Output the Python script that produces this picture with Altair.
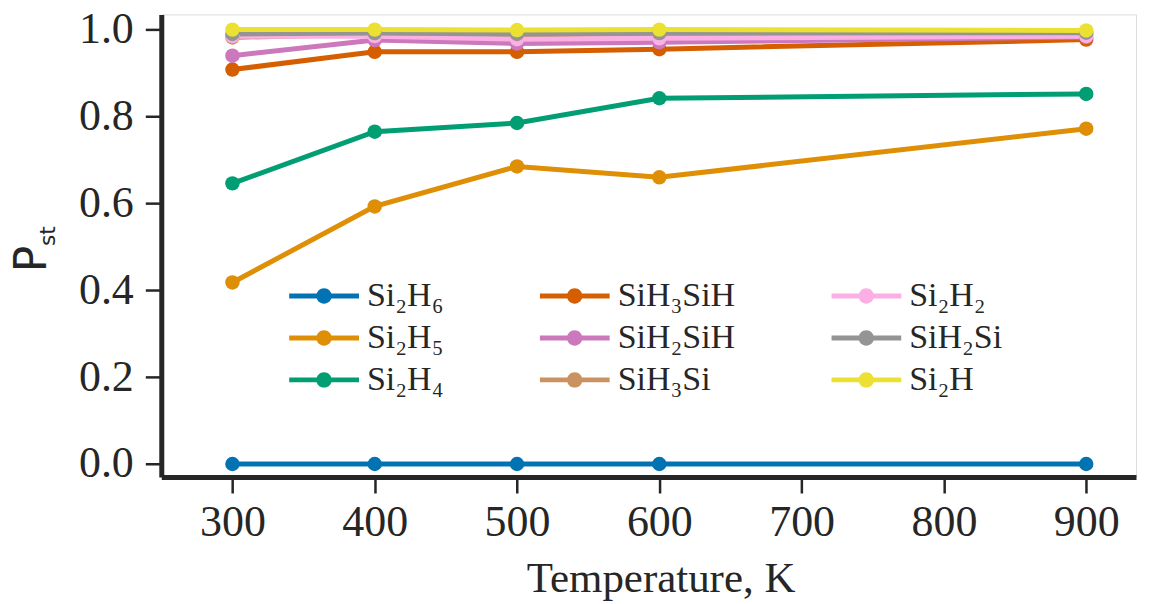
import altair as alt
import pandas as pd

temps = [300, 400, 500, 600, 900]
series_names = ["Si₂H₆", "Si₂H₅", "Si₂H₄", "SiH₃SiH", "SiH₂SiH", "SiH₃Si", "Si₂H₂", "SiH₂Si", "Si₂H"]
series_colors = ["#0173b2", "#de8f05", "#029e73", "#d55e00", "#cc78bc", "#ca9161", "#fbafe4", "#949494", "#ece133"]
si2h6 = [0.0, 0.0, 0.0, 0.0, 0.0]
si2h5 = [0.418, 0.593, 0.685, 0.660, 0.772]
si2h4 = [0.646, 0.765, 0.785, 0.842, 0.852]
sih3sih = [0.908, 0.949, 0.949, 0.955, 0.977]
sih2sih = [0.940, 0.976, 0.968, 0.971, 0.983]
sih3si = [0.982, 0.990, 0.988, 0.990, 0.990]
si2h2 = [0.985, 0.985, 0.978, 0.980, 0.985]
sih2si = [0.990, 0.992, 0.990, 0.992, 0.993]
si2h = [1.000, 1.000, 0.999, 1.000, 0.998]
x_ticks = [300, 400, 500, 600, 700, 800, 900]
y_ticks = [0.0, 0.2, 0.4, 0.6, 0.8, 1.0]

values = [si2h6, si2h5, si2h4, sih3sih, sih2sih, sih3si, si2h2, sih2si, si2h]
rows = []
for i, (name, vals) in enumerate(zip(series_names, values)):
    for t, v in zip(temps, vals):
        rows.append({"T": t, "P": v, "series": name, "k": i})
df = pd.DataFrame(rows)

x_dom = [250, 935]
y_dom = [-0.03, 1.035]
px_x = 1.425
px_y = 435.0
W = (x_dom[1] - x_dom[0]) * px_x
H = (y_dom[1] - y_dom[0]) * px_y

serif = "Liberation Serif"
txt = "#262626"

sym = ("M-1,-0.07 L1,-0.07 L1,0.07 L-1,0.07 Z "
       "M-0.22,0 A0.22,0.22 0 1,1 0.22,0 A0.22,0.22 0 1,1 -0.22,0 Z")

cscale = alt.Scale(domain=series_names, range=series_colors)
color = alt.Color(
    "series:N",
    scale=cscale,
    legend=alt.Legend(
        orient="none", legendX=128, legendY=262, columns=3, direction="vertical", title=None,
        symbolType=sym, symbolSize=4900, symbolStrokeWidth=0, symbolOpacity=1,
        labelFont=serif, labelFontSize=34, labelColor=txt, labelOffset=8,
        columnPadding=96, rowPadding=2, clipHeight=40, labelLimit=400, gridAlign="each",
    ),
)

xenc = alt.X(
    "T:Q",
    scale=alt.Scale(domain=x_dom, nice=False, zero=False),
    axis=alt.Axis(
        values=x_ticks, format="d", title="Temperature, K", grid=False,
        labelFont=serif, labelFontSize=44, labelColor=txt, labelPadding=8,
        titleFont=serif, titleFontSize=43, titleFontWeight="normal", titleColor=txt, titlePadding=13,
        titleX=500, titleAlign="center",
        domainColor=txt, domainWidth=5, tickColor=txt, tickWidth=2.5, tickSize=16,
    ),
)
yenc = alt.Y(
    "P:Q",
    scale=alt.Scale(domain=y_dom, nice=False, zero=False),
    axis=alt.Axis(
        values=y_ticks, format=".1f", title=None, grid=False,
        labelFont=serif, labelFontSize=44, labelColor=txt, labelPadding=12,
        domainColor=txt, domainWidth=5, tickColor=txt, tickWidth=2.5, tickSize=16,
    ),
)

base = alt.Chart(df)
lines = base.mark_line(strokeWidth=5).encode(x=xenc, y=yenc, color=color, detail="k:N", order="T:Q")
points = base.mark_point(filled=True, size=210, opacity=1).encode(
    x="T:Q", y="P:Q", color=alt.Color("series:N", scale=cscale)
)

p_title = alt.Chart(pd.DataFrame({"t": ["P"]})).mark_text(
    angle=270, align="center", baseline="middle", font="DejaVu Sans", fontSize=44, color=txt
).encode(x=alt.value(-128), y=alt.value(245), text="t:N")
st_title = alt.Chart(pd.DataFrame({"t": ["st"]})).mark_text(
    angle=270, align="center", baseline="middle", font="DejaVu Sans", fontSize=22, color=txt
).encode(x=alt.value(-113), y=alt.value(222), text="t:N")

chart = alt.layer(lines, points, p_title, st_title).properties(
    width=W, height=H,
    autosize=alt.AutoSizeParams(type="none"),
    padding={"left": 153.5, "top": 6, "right": 10, "bottom": 127},
).configure_view(stroke=None).configure(background="white")

chart.save("out.html", embed_options={"renderer": "svg", "actions": False})
